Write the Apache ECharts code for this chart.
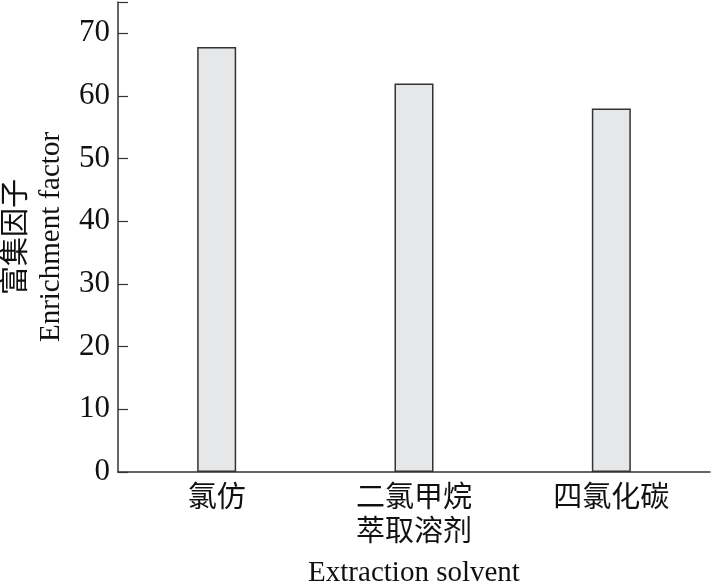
<!DOCTYPE html>
<html><head><meta charset="utf-8">
<script src="https://cdn.jsdelivr.net/npm/echarts@6/dist/echarts.min.js"></script>
<style>html,body{margin:0;padding:0;background:#fff}#c{width:713px;height:584px}</style>
</head><body><div id="c"></div>
<script>
const categories = ['氯仿', '二氯甲烷\n萃取溶剂', '四氯化碳'];
const values = [67.8, 62, 58];
const yTickValues = [0, 10, 20, 30, 40, 50, 60, 70, 75];
const yLabelValues = [0, 10, 20, 30, 40, 50, 60, 70];
const yName = '富集因子\nEnrichment factor';
const xName = 'Extraction solvent';

const chart = echarts.init(document.getElementById('c'), null, {renderer: 'canvas'});
const axisColor = '#333';
chart.setOption({
  animation: false,
  backgroundColor: '#fff',
  grid: {left: 118, right: 3, top: 2, bottom: 112, containLabel: false, outerBoundsMode: 'none'},
  xAxis: {
    type: 'category',
    data: categories,
    boundaryGap: true,
    axisLine: {lineStyle: {color: axisColor, width: 1.5}},
    axisTick: {inside: true, length: 10, lineStyle: {color: axisColor, width: 1.2}},
    axisLabel: {color: '#111', fontFamily: 'Noto Sans CJK SC', fontSize: 29, lineHeight: 34, margin: 7},
    name: xName,
    nameLocation: 'middle',
    nameGap: 87,
    nameTextStyle: {color: '#111', fontFamily: 'Liberation Serif', fontSize: 29}
  },
  yAxis: {
    type: 'value',
    min: 0, max: 75, interval: 10,
    splitLine: {show: false},
    axisLine: {show: true, lineStyle: {color: axisColor, width: 1.5}},
    axisTick: {show: true, inside: true, length: 10, customValues: yTickValues, lineStyle: {color: axisColor, width: 1.2}},
    axisLabel: {color: '#111', fontFamily: 'Liberation Serif', fontSize: 31, margin: 8, customValues: yLabelValues},
    name: yName,
    nameLocation: 'middle',
    nameRotate: 90,
    nameGap: 49,
    nameTextStyle: {color: '#111', fontFamily: 'Liberation Serif, Noto Sans CJK SC', fontSize: 29, lineHeight: 34}
  },
  series: [{
    type: 'bar',
    data: values,
    barWidth: 39,
    itemStyle: {color: '#e6e7e8', borderColor: '#333', borderWidth: 1.5}
  }]
});
</script></body></html>
